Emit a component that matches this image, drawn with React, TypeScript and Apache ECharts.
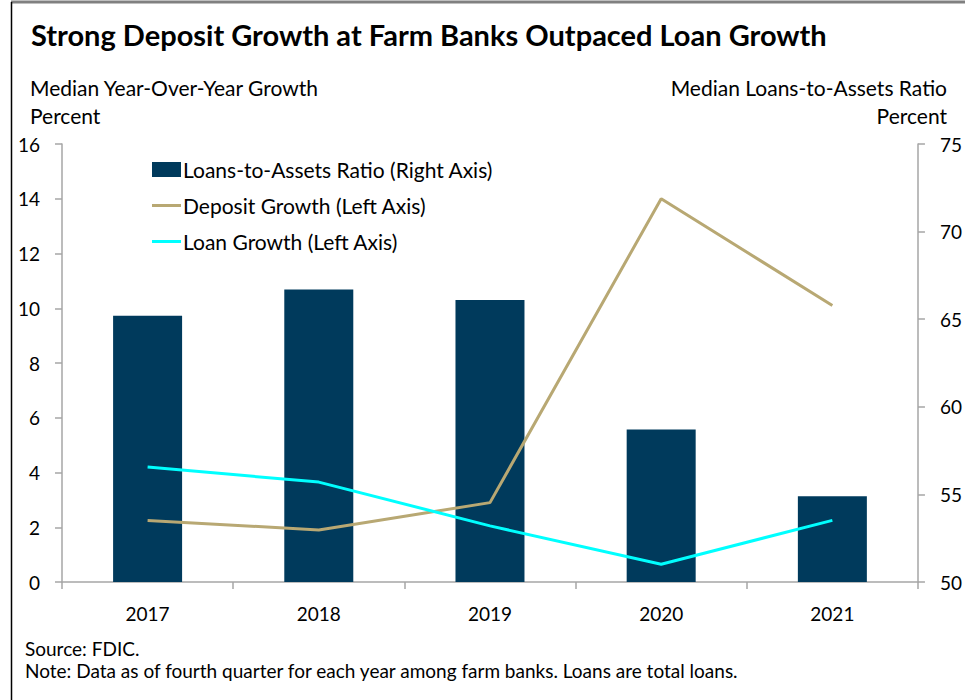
import React, { useEffect, useRef } from "react";
import * as echarts from "echarts";

const years = ["2017", "2018", "2019", "2020", "2021"];
const loansToAssets = [65.2, 66.7, 66.1, 58.7, 54.9];
const depositGrowth = [2.25, 1.9, 2.9, 14.0, 10.1];
const loanGrowth = [4.2, 3.65, 2.05, 0.65, 2.25];

const FONT = "Lato";
const AXIS_COLOR = "#A6A6A6";
const LINE_ICON = "path://M0,0 H29 V3 H0 Z";

export default function App() {
  const ref = useRef<HTMLDivElement>(null);
  useEffect(() => {
    if (!ref.current) return;
    const chart = echarts.init(ref.current, undefined, { renderer: "svg" });
    chart.setOption({
      animation: false,
      backgroundColor: "#ffffff",
      textStyle: { fontFamily: FONT },
      title: {
        text: "Strong Deposit Growth at Farm Banks Outpaced Loan Growth",
        left: 26,
        top: 15,
        textStyle: { fontFamily: FONT, fontWeight: "bold", fontSize: 29, color: "#000" },
      },
      grid: { left: 62, right: 45, top: 144, bottom: 118, containLabel: false },
      legend: {
        orient: "vertical",
        left: 152,
        top: 159,
        padding: 0,
        itemWidth: 29,
        itemHeight: 15,
        itemGap: 15,
        symbolKeepAspect: true,
        textStyle: { fontFamily: FONT, fontSize: 21, color: "#000", padding: [0, 0, 0, -3] },
        data: [
          { name: "Loans-to-Assets Ratio (Right Axis)", icon: "rect" },
          { name: "Deposit Growth (Left Axis)", icon: LINE_ICON },
          { name: "Loan Growth (Left Axis)", icon: LINE_ICON },
        ],
      },
      xAxis: {
        type: "category",
        data: years,
        boundaryGap: true,
        axisLine: { lineStyle: { color: AXIS_COLOR, width: 1.5 } },
        axisTick: { show: true, length: 7, alignWithLabel: false, lineStyle: { color: AXIS_COLOR, width: 1.5 } },
        axisLabel: { fontFamily: FONT, fontSize: 19, color: "#000", margin: 22 },
      },
      yAxis: [
        {
          type: "value",
          min: 0,
          max: 16,
          interval: 2,
          position: "left",
          splitLine: { show: false },
          axisLine: { show: true, lineStyle: { color: AXIS_COLOR, width: 1.5 } },
          axisTick: { show: true, length: 7, lineStyle: { color: AXIS_COLOR, width: 1.5 } },
          axisLabel: { fontFamily: FONT, fontSize: 19, color: "#000", margin: 22 },
        },
        {
          type: "value",
          min: 50,
          max: 75,
          interval: 5,
          position: "right",
          splitLine: { show: false },
          axisLine: { show: true, lineStyle: { color: AXIS_COLOR, width: 1.5 } },
          axisTick: { show: true, length: 7, lineStyle: { color: AXIS_COLOR, width: 1.5 } },
          axisLabel: { fontFamily: FONT, fontSize: 19, color: "#000", margin: 22 },
        },
      ],
      series: [
        {
          name: "Loans-to-Assets Ratio (Right Axis)",
          type: "bar",
          yAxisIndex: 1,
          data: loansToAssets,
          barWidth: 69,
          itemStyle: { color: "#003A5C" },
          z: 1,
        },
        {
          name: "Deposit Growth (Left Axis)",
          type: "line",
          yAxisIndex: 0,
          data: depositGrowth,
          symbol: "none",
          lineStyle: { color: "#B8A873", width: 3 },
          itemStyle: { color: "#B8A873" },
          z: 3,
        },
        {
          name: "Loan Growth (Left Axis)",
          type: "line",
          yAxisIndex: 0,
          data: loanGrowth,
          symbol: "none",
          lineStyle: { color: "#00FFFF", width: 3 },
          itemStyle: { color: "#00FFFF" },
          z: 4,
        },
      ],
      graphic: [
        { type: "line", shape: { x1: 11, y1: 2, x2: 965, y2: 2 }, style: { stroke: "#808080", lineWidth: 3 } },
        { type: "line", shape: { x1: 11.5, y1: 2, x2: 11.5, y2: 700 }, style: { stroke: "#000", lineWidth: 1.5 } },
        {
          type: "text",
          left: 30,
          top: 77,
          style: { text: "Median Year-Over-Year Growth", font: `21px ${FONT}`, fill: "#000" },
        },
        {
          type: "text",
          left: 30,
          top: 105,
          style: { text: "Percent", font: `21px ${FONT}`, fill: "#000" },
        },
        {
          type: "text",
          right: 18,
          top: 77,
          style: { text: "Median Loans-to-Assets Ratio", font: `21px ${FONT}`, fill: "#000" },
        },
        {
          type: "text",
          right: 18,
          top: 105,
          style: { text: "Percent", font: `21px ${FONT}`, fill: "#000" },
        },
        {
          type: "text",
          left: 25,
          top: 639,
          style: { text: "Source: FDIC.", font: `19px ${FONT}`, fill: "#000" },
        },
        {
          type: "text",
          left: 25,
          top: 661,
          style: {
            text: "Note: Data as of fourth quarter for each year among farm banks. Loans are total loans.",
            font: `19px ${FONT}`,
            fill: "#000",
          },
        },
      ],
    });
    return () => chart.dispose();
  }, []);
  return (
    <div
      ref={ref}
      style={{ position: "fixed", left: 0, top: 0, width: 965, height: 700, background: "#fff" }}
    />
  );
}
